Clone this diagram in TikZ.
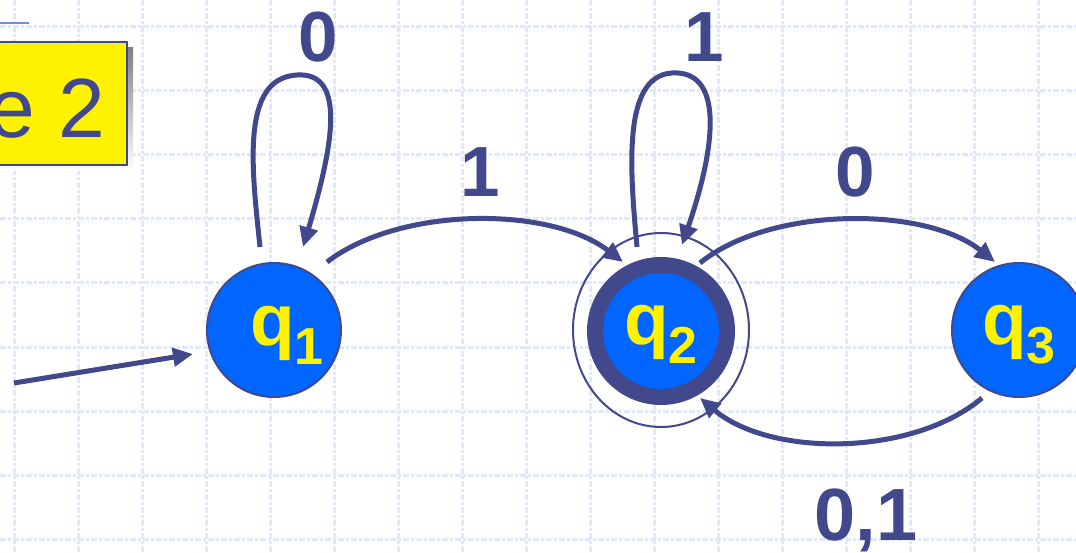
\documentclass[tikz,border=0pt]{standalone}
\usepackage{fontspec}
\setmainfont{Liberation Sans}
\usetikzlibrary{arrows.meta,calc,shapes.geometric}
\definecolor{ink}{RGB}{65,72,140}
\definecolor{statefill}{RGB}{0,102,255}
\definecolor{gridblue}{RGB}{224,233,252}
\definecolor{shade}{RGB}{182,188,232}
\definecolor{rulecol}{RGB}{110,140,232}
% lowered index digit of a state name
\newcommand{\statesub}[1]{\raisebox{-19pt}{\fontsize{52}{52}\selectfont #1}}
\begin{document}
\begin{tikzpicture}[x=1pt,y=-1pt,
  state/.style={circle,fill=statefill,draw=ink,line width=2pt,minimum size=134pt,inner sep=0pt},
  accstate/.style={circle,fill=statefill,draw=ink,line width=16pt,minimum size=132pt,inner sep=0pt},
  edge/.style={draw=ink,line width=5pt,-{Triangle[length=20pt,width=18pt]}},
  qlabel/.style={text=yellow,font=\fontsize{73}{73}\selectfont\bfseries,inner sep=0pt,anchor=base west},
  tlabel/.style={text=ink,font=\fontsize{71}{71}\selectfont\bfseries,inner sep=0pt,anchor=base},
  gridline/.style={gridblue,line width=3pt,dash pattern=on 6pt off 2pt on 3pt off 2pt}]
\useasboundingbox (0,0) rectangle (1076,553);
\clip (0,0) rectangle (1076,553);
\fill[white] (0,0) rectangle (1076,553);

% background grid
\foreach \gx in {14,78,...,1038} \draw[gridline] (\gx,0) -- (\gx,553);
\foreach \gy in {27,91,...,539} \draw[gridline] (0,\gy) -- (1076,\gy);

% title box with its shadow
\draw[rulecol,line width=2pt] (0,23.5) -- (29,23.5);
\fill[shade] (-20,48) rectangle (133,171);
\draw[ink,fill=yellow,line width=2pt] (-20,42) rectangle (127,165);
\node[anchor=base east,text=ink,inner sep=0pt,font=\fontsize{84}{84}\selectfont] (title) at (105,138) {e 2};

% states
\node[state] (q1) at (274,330) {};
\node[draw=ink,line width=2pt,ellipse,minimum width=176pt,minimum height=194pt,inner sep=0pt] (q2ring) at (661,330) {};
\node[accstate] (q2) at (661,331) {};
\node[state] (q3) at (1019,330) {};
\node[qlabel] (q1t) at (250,345) {q\statesub{1}};
\node[qlabel] (q2t) at (624,344) {q\statesub{2}};
\node[qlabel] (q3t) at (982,344) {q\statesub{3}};

% transitions
\coordinate (start) at (14,383);
\draw[edge] (start) -- ($(q1)+(-81,24)$);
\draw[edge] ($(q1)+(-14,-83)$) .. controls +(-8,-77) and +(-57,3) .. ($(q1)+(23,-255)$)
            .. controls +(48,-3) and +(32,-107) .. ($(q1)+(29,-83)$);
\draw[edge] ($(q2)+(-24,-84)$) .. controls +(-7,-77) and +(-50,3) .. ($(q2)+(11,-258)$)
            .. controls +(50,-3) and +(36,-105) .. ($(q2)+(21,-86)$);
\draw[edge] ($(q1)+(53,-68)$) .. controls +(73,-56) and +(-73,-56) .. ($(q2)+(-38,-69)$);
\draw[edge] ($(q2)+(39,-68)$) .. controls +(70,-57) and +(-70,-56) .. ($(q3)+(-24,-68)$);
\draw[edge] ($(q3)+(-37,68)$) .. controls +(-70,59) and +(70,59) .. ($(q2)+(39,67)$);

% transition labels
\node[tlabel] (l0a) at (318,62) {0};
\node[tlabel] (l1a) at (480,197) {1};
\node[tlabel] (l1b) at (704,62) {1};
\node[tlabel] (l0b) at (855,197) {0};
\node[tlabel,font=\fontsize{74}{74}\selectfont\bfseries] (l01) at (866,540) {0,1};
\end{tikzpicture}
\end{document}
